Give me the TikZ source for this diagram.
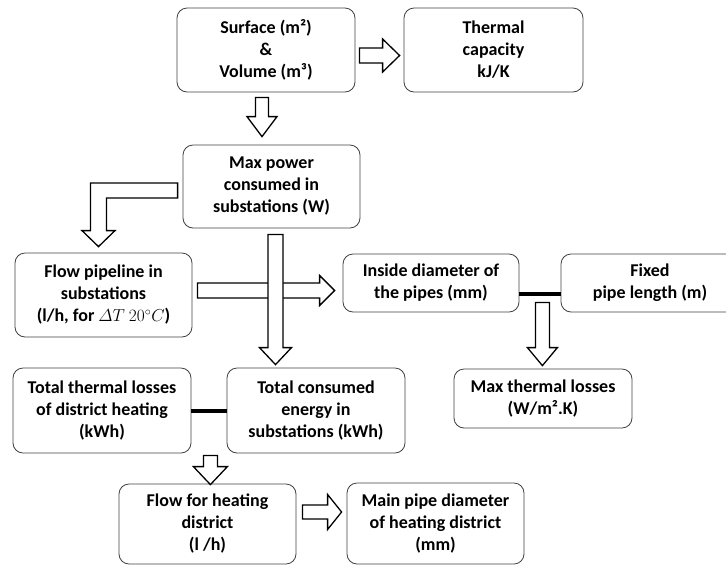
\documentclass[tikz,border=0pt]{standalone}
\usepackage{amsmath}
\usepackage{fontspec}
\setmainfont{Carlito}
\usetikzlibrary{calc}
\tikzset{
  box/.style={draw=black!75, line width=0.8pt, rounded corners=10pt, align=center,
    font=\bfseries\fontsize{18}{22}\selectfont, inner sep=2pt},
  barrow/.style={draw=black, line width=1.3pt, fill=white, line join=miter},
  link/.style={draw=black, line width=4pt}
}
% down block arrow: start, tip, shaft half width, head half width, head length
\newcommand{\DownBlock}[5]{%
  \draw[barrow] let \p1=(#1), \p2=(#2) in
    (\x1-#3pt,\y1) -- (\x1-#3pt,\y2+#5pt) -- (\x1-#4pt,\y2+#5pt) -- (\x1,\y2)
    -- (\x1+#4pt,\y2+#5pt) -- (\x1+#3pt,\y2+#5pt) -- (\x1+#3pt,\y1) -- cycle;}
% right block arrow
\newcommand{\RightBlock}[5]{%
  \draw[barrow] let \p1=(#1), \p2=(#2) in
    (\x1,\y1+#3pt) -- (\x2-#5pt,\y1+#3pt) -- (\x2-#5pt,\y1+#4pt) -- (\x2,\y1)
    -- (\x2-#5pt,\y1-#4pt) -- (\x2-#5pt,\y1-#3pt) -- (\x1,\y1-#3pt) -- cycle;}
\begin{document}
\begin{tikzpicture}[x=1pt,y=-1pt]
\useasboundingbox (0,0) rectangle (726,566);
% boxes
\node[box, minimum width=178pt, minimum height=84pt] (surf) at (266,50) {Surface (m²)\\\&\\Volume (m³)};
\node[box, minimum width=179pt, minimum height=84pt] (therm) at (493.5,50) {Thermal\\capacity\\kJ/K};
\node[box, minimum width=177pt, minimum height=83pt] (maxp) at (271.5,186.5) {Max power\\consumed in\\substations (W)};
\node[box, minimum width=177pt, minimum height=84pt] (flowp) at (103.5,295) {Flow pipeline in\\substations\\(l/h, for {\mdseries$\varDelta T$ $20^{\circ}C$})};
\node[box, minimum width=176pt, minimum height=58pt] (inside) at (431,283) {Inside diameter of\\the pipes (mm)};
\node[box, minimum width=178pt, minimum height=58pt] (fixed) at (650,283) {Fixed\\pipe length (m)};
\node[box, minimum width=178pt, minimum height=59pt] (maxloss) at (543,398.5) {Max thermal losses\\(W/m².K)};
\node[box, minimum width=178pt, minimum height=85pt] (totloss) at (102,410.5) {Total thermal losses\\of district heating\\(kWh)};
\node[box, minimum width=178pt, minimum height=85pt] (totcons) at (316,410.5) {Total consumed\\energy in\\substations (kWh)};
\node[box, minimum width=177pt, minimum height=80pt] (flowh) at (207.5,524) {Flow for heating\\district\\(l /h)};
\node[box, minimum width=177pt, minimum height=81pt] (mainp) at (435.5,523.5) {Main pipe diameter\\of heating district\\(mm)};
% connector end points
\coordinate (a1s) at ($(surf.east)+(4,5.5)$);
\coordinate (a1t) at ($(therm.west)+(-4,5.5)$);
\coordinate (a2s) at ($(surf.south)+(-4,5)$);
\coordinate (a2t) at ($(maxp.north)+(-9.5,-8)$);
\coordinate (a3s) at ($(maxp.west)+(-5,4)$);
\coordinate (a3t) at ($(flowp.north)+(-5,-6)$);
\coordinate (a4s) at ($(flowp.east)+(5,-4.5)$);
\coordinate (a4t) at ($(inside.west)+(-8,7.5)$);
\coordinate (a5s) at ($(maxp.south)+(4,6)$);
\coordinate (a5t) at ($(totcons.north)+(-40.5,-3)$);
\coordinate (a6s) at ($(inside.south east)+(23,-10)$);
\coordinate (a6t) at ($(maxloss.north)+(-1,-3)$);
\coordinate (a7s) at ($(totloss.south east)+(19,2)$);
\coordinate (a7t) at ($(flowh.north)+(2.5,1)$);
\coordinate (a8s) at ($(flowh.east)+(6,-12)$);
\coordinate (a8t) at ($(mainp.west)+(-5,-11.5)$);
% arrows
\RightBlock{a1s}{a1t}{7.5}{16.5}{17}
\DownBlock{a2s}{a2t}{6.5}{15}{20}
\draw[barrow] let \p1=(a3s), \p2=(a3t) in
  (\x1,\y1+7.5pt) -- (\x2-8pt,\y1+7.5pt) -- (\x2-8pt,\y2+16pt) -- (\x2-16.5pt,\y2+16pt)
  -- (\x2,\y2) -- (\x2+16.5pt,\y2+16pt) -- (\x2+8pt,\y2+16pt) -- (\x2+8pt,\y1-7.5pt)
  -- (\x1,\y1-7.5pt) -- cycle;
\RightBlock{a4s}{a4t}{7.5}{15}{15}
\DownBlock{a5s}{a5t}{7.5}{16}{17}
\DownBlock{a6s}{a6t}{7}{15}{18}
\DownBlock{a7s}{a7t}{7}{17}{18}
\RightBlock{a8s}{a8t}{7}{17.5}{14}
% links
\draw[link] ($(inside.east)+(0,11)$) -- ($(fixed.west)+(0,11)$);
\draw[link] (totloss.east) -- (totcons.west);
\end{tikzpicture}
\end{document}
